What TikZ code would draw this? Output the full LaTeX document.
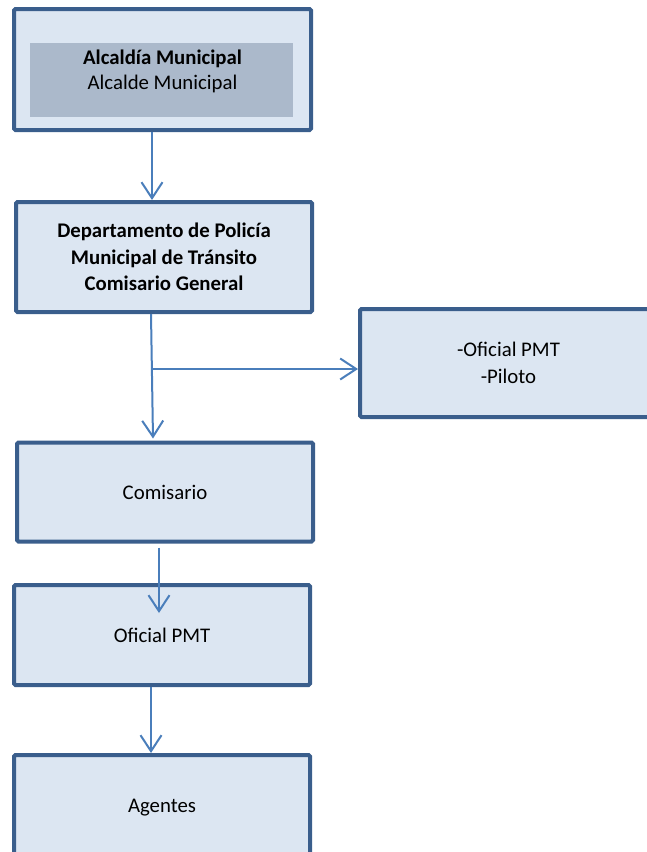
\documentclass[tikz,border=0pt]{standalone}
\usepackage{fontspec}
\setmainfont{Carlito}
\usetikzlibrary{arrows.meta}
\definecolor{boxline}{HTML}{3A5E8C}
\definecolor{boxfill}{HTML}{DCE6F2}
\definecolor{innerfill}{HTML}{ABB9CB}
\definecolor{linkcol}{HTML}{4A7EBB}
\begin{document}
\begin{tikzpicture}[x=1pt,y=-1pt,
  unit/.style={draw=boxline,line width=4pt,fill=boxfill,rounded corners=1.5pt,
    minimum width=296pt,inner sep=0pt,align=center,
    font=\fontsize{20.8}{26.5}\selectfont},
  innerbox/.style={fill=innerfill,draw=none,minimum width=263pt,minimum height=74pt,inner sep=0pt},
  label/.style={align=center,font=\fontsize{20.8}{25.5}\selectfont},
  link/.style={draw=linkcol,line width=2pt,
    -{Straight Barb[length=16pt,width=21pt,line width=2pt]}}]
\useasboundingbox (0,0) rectangle (647,852);

% boxes
\node[unit,minimum width=297pt,minimum height=121pt] (alc) at (162.5,69.5) {};
\node[innerbox] (alcin) at (161.5,80) {};
\node[label] (alctxt) at ([yshift=-2pt]alc.center) {\textbf{Alcaldía Municipal}\\Alcalde Municipal};

\node[unit,minimum height=110pt,font=\bfseries\fontsize{20.8}{26.5}\selectfont] (dept) at (164,257)
  {Departamento de Policía\\Municipal de Tránsito\\Comisario General};

\node[unit,minimum width=297pt,minimum height=108pt] (pil) at (508.5,363) {-Oficial PMT\\-Piloto};

\node[unit,minimum height=99pt] (com) at (165,492) {Comisario};
\node[unit,minimum height=100pt] (ofi) at (162,635) {Oficial PMT};
\node[unit,minimum height=100pt] (age) at (162,805) {};
\node (agetxt) at ([yshift=-3pt]age.center) {\fontsize{20.8}{26.5}\selectfont Agentes};

% connectors
\draw[link] ([xshift=-10.5pt]alc.south) -- ([xshift=-12pt]dept.north);
\draw[link] ([xshift=-13pt]dept.south) -- ([xshift=-12pt,yshift=2pt]com.north);
\coordinate (fork) at (152,369);
\draw[link] (fork) -- (fork -| pil.west);
\draw[link] ([xshift=-6pt,yshift=-4pt]com.south) -- ([xshift=-3pt,yshift=-30pt]ofi.north);
\draw[link] ([xshift=-11pt]ofi.south) -- ([xshift=-11pt]age.north);
\end{tikzpicture}
\end{document}
